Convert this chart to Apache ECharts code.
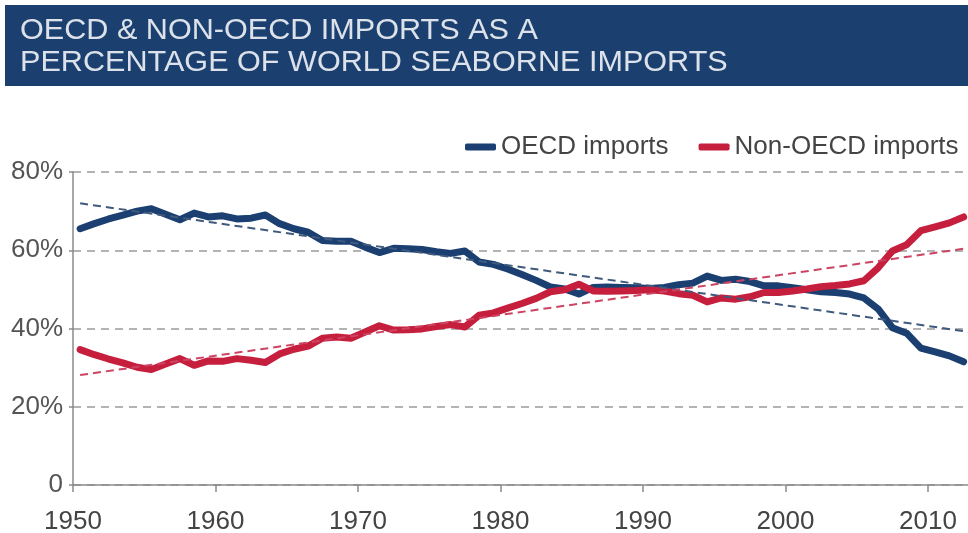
<!DOCTYPE html>
<html>
<head>
<meta charset="utf-8">
<script src="https://cdn.jsdelivr.net/npm/echarts@6/dist/echarts.min.js"></script>
<style>
html,body{margin:0;padding:0;background:#fff;}
#chart{width:968px;height:533px;}
</style>
</head>
<body>
<div id="chart"></div>
<script>
// ---- data ----
var years = [1950,1951,1952,1953,1954,1955,1956,1957,1958,1959,
             1960,1961,1962,1963,1964,1965,1966,1967,1968,1969,
             1970,1971,1972,1973,1974,1975,1976,1977,1978,1979,
             1980,1981,1982,1983,1984,1985,1986,1987,1988,1989,
             1990,1991,1992,1993,1994,1995,1996,1997,1998,1999,
             2000,2001,2002,2003,2004,2005,2006,2007,2008,2009,
             2010,2011,2012];
var oecdImports = [65.5,66.8,68.0,69.0,70.0,70.6,69.2,67.8,69.5,68.5,
                   68.8,68.0,68.2,69.0,66.8,65.5,64.6,62.5,62.3,62.3,
                   60.8,59.4,60.5,60.4,60.2,59.6,59.2,59.8,57.0,56.4,
                   55.2,53.8,52.3,50.6,50.1,48.8,50.5,50.6,50.5,50.4,
                   50.2,50.5,51.2,51.6,53.4,52.3,52.6,52.0,50.9,50.9,
                   50.4,49.9,49.4,49.2,48.8,47.8,45.0,40.2,38.8,35.0,
                   34.0,33.0,31.5];
var nonOecdImports = [34.6,33.3,32.2,31.2,30.1,29.5,30.9,32.3,30.6,31.7,
                      31.6,32.3,31.9,31.3,33.5,34.7,35.5,37.5,37.8,37.5,
                      39.1,40.7,39.6,39.7,39.9,40.5,41.0,40.4,43.4,44.0,
                      45.2,46.4,47.7,49.4,49.9,51.3,49.6,49.5,49.6,49.7,
                      49.9,49.6,48.9,48.5,46.8,47.8,47.5,48.1,49.2,49.2,
                      49.6,50.1,50.7,51.0,51.4,52.2,55.5,59.8,61.4,65.0,
                      66.0,67.0,68.5];
// linear trend lines: values at the first and last year
var trendYears = [1950, 2013];
var oecdTrend = [72.0, 38.8];
var nonOecdTrend = [28.1, 60.9];
var yTicks = [0, 20, 40, 60, 80];
var xTicks = [1950, 1960, 1970, 1980, 1990, 2000, 2010];
var seriesNames = ['OECD imports', 'Non-OECD imports'];
var titleLines = ['OECD & NON-OECD IMPORTS AS A', 'PERCENTAGE OF WORLD SEABORNE IMPORTS'];

// points plotted at mid-year
function pairs(xs, vs) { return xs.map(function (y, i) { return [y + 0.5, vs[i]]; }); }

var BLUE = '#1a3f70';
var RED = '#c61f3d';
var FONT = '"Liberation Sans", Arial, Helvetica, sans-serif';

var chart = echarts.init(document.getElementById('chart'), null, {renderer: 'canvas'});
chart.setOption({
  animation: false,
  backgroundColor: '#ffffff',
  graphic: [{
    type: 'rect', left: 5, top: 5, z: 0,
    shape: {width: 963, height: 81},
    style: {fill: '#1b4070'}
  }, {
    type: 'text', x: 20, y: 15, scaleX: 1.055, z: 10,
    style: {
      text: titleLines.join('\n'),
      font: 'normal 29px ' + FONT, lineHeight: 32,
      fill: '#dde2ea', verticalAlign: 'top', align: 'left'
    }
  }],
  legend: {
    data: seriesNames,
    left: 465, top: 133, padding: 0, width: 503,
    itemWidth: 31, itemHeight: 7, itemGap: 30,
    icon: 'roundRect',
    textStyle: {fontFamily: FONT, fontSize: 26, color: '#444', lineHeight: 28}
  },
  grid: {left: 73, top: 172, width: 897.75, height: 313, containLabel: false, outerBoundsMode: 'none'},
  xAxis: {
    type: 'value', min: 1950, max: 2013, interval: 10,
    axisLine: {show: true, lineStyle: {color: '#8a8a8a', width: 1.5}},
    axisTick: {show: true, length: 7, lineStyle: {color: '#8a8a8a', width: 1.5}},
    axisLabel: {
      margin: 24, fontFamily: FONT, fontSize: 26, color: '#444', showMaxLabel: false,
      formatter: function (v) { return xTicks.indexOf(v) >= 0 ? String(v) : ''; }
    },
    splitLine: {show: false}
  },
  yAxis: {
    type: 'value', min: 0, max: 80, interval: 20,
    axisLine: {show: true, lineStyle: {color: '#8a8a8a', width: 1.5}},
    axisTick: {show: true, length: 4, lineStyle: {color: '#8a8a8a', width: 1.5}},
    axisLabel: {
      margin: 10, fontFamily: FONT, fontSize: 26, color: '#555',
      formatter: function (v) { return yTicks.indexOf(v) < 0 ? '' : (v === 0 ? '0' : v + '%'); }
    },
    splitLine: {show: true, lineStyle: {color: '#9a9a9a', width: 1.5, type: [8, 6]}}
  },
  series: [
    {
      name: seriesNames[0], type: 'line', data: pairs(years, oecdImports),
      showSymbol: false, symbol: 'none', z: 3,
      itemStyle: {color: BLUE},
      lineStyle: {color: BLUE, width: 7, cap: 'round', join: 'round'}
    },
    {
      name: seriesNames[1], type: 'line', data: pairs(years, nonOecdImports),
      showSymbol: false, symbol: 'none', z: 4,
      itemStyle: {color: RED},
      lineStyle: {color: RED, width: 7, cap: 'round', join: 'round'}
    },
    {
      name: 'OECD trend', type: 'line', data: pairs(trendYears, oecdTrend),
      showSymbol: false, symbol: 'none', z: 5, silent: true,
      lineStyle: {color: '#3f5a7c', width: 2, type: [8, 5]}
    },
    {
      name: 'Non-OECD trend', type: 'line', data: pairs(trendYears, nonOecdTrend),
      showSymbol: false, symbol: 'none', z: 5, silent: true,
      lineStyle: {color: '#cc4462', width: 2, type: [8, 5]}
    }
  ]
});
</script>
</body>
</html>
